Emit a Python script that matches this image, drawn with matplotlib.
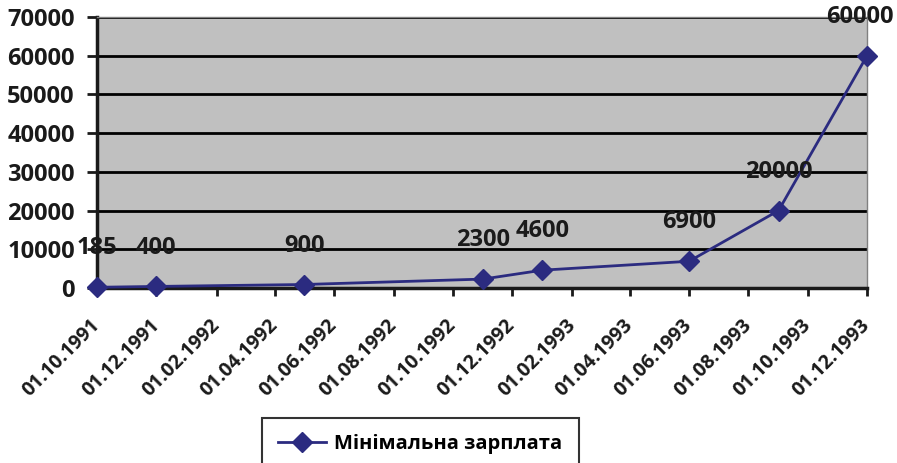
import matplotlib
matplotlib.use('Agg')
import matplotlib.pyplot as plt
from datetime import datetime

plt.rcParams['font.family'] = ['Open Sans', 'DejaVu Sans']
plt.rcParams['font.weight'] = 'bold'

dates = ["01.10.1991", "01.12.1991", "01.05.1992", "01.11.1992", "01.01.1993",
         "01.06.1993", "01.09.1993", "01.12.1993"]
wage = [185, 400, 900, 2300, 4600, 6900, 20000, 60000]
tick_dates = ["01.10.1991", "01.12.1991", "01.02.1992", "01.04.1992", "01.06.1992",
              "01.08.1992", "01.10.1992", "01.12.1992", "01.02.1993", "01.04.1993",
              "01.06.1993", "01.08.1993", "01.10.1993", "01.12.1993"]
series_name = "Мінімальна зарплата"

x = [datetime.strptime(d, "%d.%m.%Y") for d in dates]
xt = [datetime.strptime(d, "%d.%m.%Y") for d in tick_dates]

col = '#2B2B80'
fig = plt.figure(figsize=(8.97, 4.63), dpi=100)
ax = fig.add_axes([0.1081, 0.378, 0.8585, 0.5853])
ax.set_facecolor('#C0C0C0')

ax.plot(x, wage, '-D', color=col, lw=2, markersize=10, label=series_name,
        zorder=3, clip_on=False)
for i, (xi, v) in enumerate(zip(x, wage)):
    dx = -5 if i == len(wage) - 1 else 0  # excel pulls the last label inside
    ax.annotate(str(v), (xi, v), xytext=(dx, 28), textcoords='offset points',
                ha='center', va='center', fontsize=17, fontweight='bold',
                color='#1a1a1a', zorder=4, annotation_clip=False)

ax.set_ylim(0, 70000)
ax.set_yticks(range(0, 70001, 10000))
ax.set_xlim(xt[0], xt[-1])
ax.set_xticks(xt)
ax.set_xticklabels(tick_dates, rotation=45, ha='right', va='center',
                   rotation_mode='anchor')
ax.yaxis.grid(True, color='black', lw=2)
ax.set_axisbelow(True)

ax.tick_params(axis='y', labelsize=17, length=7, width=2, pad=9, colors='#1a1a1a')
ax.tick_params(axis='x', labelsize=14, length=6, width=2, pad=19, colors='#1a1a1a')
for s in ['left', 'bottom']:
    ax.spines[s].set_linewidth(2.5)
    ax.spines[s].set_color('#1a1a1a')
for s in ['top', 'right']:
    ax.spines[s].set_linewidth(1)
    ax.spines[s].set_color('#808080')

leg = fig.legend(loc='upper left', bbox_to_anchor=(262/897, 1 - 418/463),
                 fontsize=14.5, frameon=True, fancybox=False, handlelength=2.4,
                 handletextpad=0.4, borderpad=0.8, borderaxespad=0)
leg.get_frame().set_edgecolor('black')
leg.get_frame().set_linewidth(1.5)
for t in leg.get_texts():
    t.set_fontweight('bold')

fig.savefig('out.png', dpi=100)
